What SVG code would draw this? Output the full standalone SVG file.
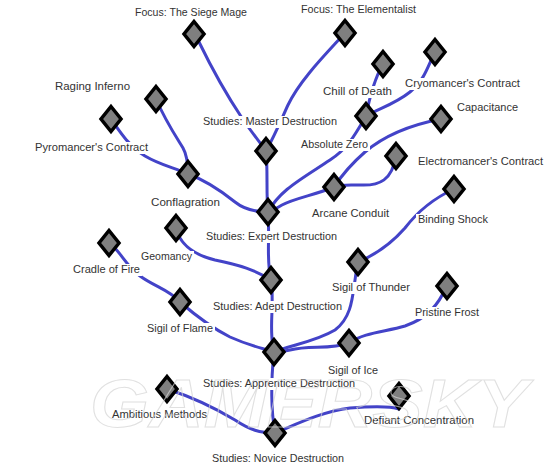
<svg xmlns="http://www.w3.org/2000/svg" width="550" height="469" viewBox="0 0 550 469">
<defs>
<style>
.c{fill:none;stroke:#4343c8;stroke-width:3;stroke-linecap:round}
.d{fill:#7f7f7f;stroke:#000;stroke-width:3.5;stroke-linejoin:miter}
.bg{fill:#fff}
.t{font-family:"Liberation Sans","DejaVu Sans",sans-serif;font-size:11.5px;fill:#333}
.wm{font-family:"Liberation Sans",sans-serif;font-weight:bold;font-style:italic;font-size:69px;fill:none;stroke:#d4d4d4;stroke-width:1;opacity:.7}
</style>
<path id="dia" d="M0,-12.5 L10,0 L0,12.5 L-10,0 Z"/>
</defs>
<rect width="550" height="469" fill="#fff"/>
<g id="connectors">
<path class="c" d="M199,42 C215,75 230,100 242,118 C250,130 258,140 266,151"/>
<path class="c" d="M345,33 C325,55 300,80 288,105 C282,118 275,135 266,151"/>
<path class="c" d="M266,151 C268,170 266,195 268,212"/>
<path class="c" d="M156,99 C165,120 175,135 183,148 C187,155 188,165 188,174"/>
<path class="c" d="M111,119 C120,132 128,145 145,156 C160,165 175,168 188,174"/>
<path class="c" d="M188,174 C205,180 220,190 235,202 C245,210 255,212 268,212"/>
<path class="c" d="M383,64 C375,78 370,95 366,116"/>
<path class="c" d="M435,52 C428,65 425,80 410,92 C395,104 380,108 366,116"/>
<path class="c" d="M366,116 C355,135 348,148 330,160 C300,180 280,190 268,212"/>
<path class="c" d="M441,119 C410,125 385,135 365,152 C350,165 342,175 334,187"/>
<path class="c" d="M396,156 C392,180 380,186 360,185 C350,185 342,184 334,187"/>
<path class="c" d="M334,187 C315,195 295,198 282,205 C275,209 270,212 268,212"/>
<path class="c" d="M176,228 C180,245 195,255 215,260 C240,265 255,270 271,280"/>
<path class="c" d="M268,212 C270,240 266,260 271,280"/>
<path class="c" d="M109,243 C120,250 125,265 140,276 C155,287 170,290 180,302"/>
<path class="c" d="M180,302 C195,315 210,327 230,337 C250,346 262,348 274,352"/>
<path class="c" d="M271,280 C275,305 268,330 274,352"/>
<path class="c" d="M454,189 C430,200 415,215 405,228 C390,245 375,255 358,262"/>
<path class="c" d="M358,262 C352,290 355,315 335,330 C315,342 290,345 274,352"/>
<path class="c" d="M447,286 C438,305 428,318 405,326 C385,332 365,332 349,343"/>
<path class="c" d="M349,343 C330,350 310,345 290,350 C282,352 278,352 274,352"/>
<path class="c" d="M274,352 C271,380 271,410 275,433"/>
<path class="c" d="M167,389 C195,398 215,408 235,420 C250,430 260,433 275,433"/>
<path class="c" d="M399,409 C390,406 375,406 350,408 C320,412 295,425 275,433"/>
</g>
<g id="n-siege"><rect class="bg" x="133" y="7" width="116" height="12"/><text class="t" x="135" y="16" textLength="112" lengthAdjust="spacingAndGlyphs">Focus: The Siege Mage</text><use href="#dia" class="d" x="194" y="34"/></g>
<g id="n-elementalist"><rect class="bg" x="299" y="4" width="119" height="12"/><text class="t" x="301" y="13" textLength="115" lengthAdjust="spacingAndGlyphs">Focus: The Elementalist</text><use href="#dia" class="d" x="345" y="33"/></g>
<g id="n-raging"><rect class="bg" x="53" y="81" width="79" height="12"/><text class="t" x="55" y="90" textLength="75" lengthAdjust="spacingAndGlyphs">Raging Inferno</text><use href="#dia" class="d" x="156" y="99"/></g>
<g id="n-pyro"><rect class="bg" x="33" y="142" width="117" height="12"/><text class="t" x="35" y="151" textLength="113" lengthAdjust="spacingAndGlyphs">Pyromancer's Contract</text><use href="#dia" class="d" x="111" y="119"/></g>
<g id="n-master"><rect class="bg" x="201" y="116" width="138" height="12"/><text class="t" x="203" y="125" textLength="134" lengthAdjust="spacingAndGlyphs">Studies: Master Destruction</text><use href="#dia" class="d" x="266" y="151"/></g>
<g id="n-chill"><rect class="bg" x="321" y="86" width="73" height="12"/><text class="t" x="323" y="95" textLength="69" lengthAdjust="spacingAndGlyphs">Chill of Death</text><use href="#dia" class="d" x="383" y="64"/></g>
<g id="n-cryo"><rect class="bg" x="403" y="78" width="119" height="12"/><text class="t" x="405" y="87" textLength="115" lengthAdjust="spacingAndGlyphs">Cryomancer's Contract</text><use href="#dia" class="d" x="435" y="52"/></g>
<g id="n-abszero"><rect class="bg" x="299" y="139" width="71" height="12"/><text class="t" x="301" y="148" textLength="67" lengthAdjust="spacingAndGlyphs">Absolute Zero</text><use href="#dia" class="d" x="366" y="116"/></g>
<g id="n-capacitance"><rect class="bg" x="455" y="102" width="65" height="12"/><text class="t" x="457" y="111" textLength="61" lengthAdjust="spacingAndGlyphs">Capacitance</text><use href="#dia" class="d" x="441" y="119"/></g>
<g id="n-electro"><rect class="bg" x="416" y="156" width="129" height="12"/><text class="t" x="418" y="165" textLength="125" lengthAdjust="spacingAndGlyphs">Electromancer's Contract</text><use href="#dia" class="d" x="396" y="156"/></g>
<g id="n-conflag"><rect class="bg" x="149" y="197" width="73" height="12"/><text class="t" x="151" y="206" textLength="69" lengthAdjust="spacingAndGlyphs">Conflagration</text><use href="#dia" class="d" x="188" y="174"/></g>
<g id="n-expert"><rect class="bg" x="204" y="231" width="135" height="12"/><text class="t" x="206" y="240" textLength="131" lengthAdjust="spacingAndGlyphs">Studies: Expert Destruction</text><use href="#dia" class="d" x="268" y="212"/></g>
<g id="n-arcane"><rect class="bg" x="310" y="208" width="81" height="12"/><text class="t" x="312" y="217" textLength="77" lengthAdjust="spacingAndGlyphs">Arcane Conduit</text><use href="#dia" class="d" x="334" y="187"/></g>
<g id="n-binding"><rect class="bg" x="416" y="214" width="74" height="12"/><text class="t" x="418" y="223" textLength="70" lengthAdjust="spacingAndGlyphs">Binding Shock</text><use href="#dia" class="d" x="454" y="189"/></g>
<g id="n-geomancy"><rect class="bg" x="139" y="251" width="55" height="12"/><text class="t" x="141" y="260" textLength="51" lengthAdjust="spacingAndGlyphs">Geomancy</text><use href="#dia" class="d" x="176" y="228"/></g>
<g id="n-cradle"><rect class="bg" x="71" y="264" width="71" height="12"/><text class="t" x="73" y="273" textLength="67" lengthAdjust="spacingAndGlyphs">Cradle of Fire</text><use href="#dia" class="d" x="109" y="243"/></g>
<g id="n-adept"><rect class="bg" x="211" y="301" width="133" height="12"/><text class="t" x="213" y="310" textLength="129" lengthAdjust="spacingAndGlyphs">Studies: Adept Destruction</text><use href="#dia" class="d" x="271" y="280"/></g>
<g id="n-thunder"><rect class="bg" x="330" y="282" width="82" height="12"/><text class="t" x="332" y="291" textLength="78" lengthAdjust="spacingAndGlyphs">Sigil of Thunder</text><use href="#dia" class="d" x="358" y="262"/></g>
<g id="n-flame"><rect class="bg" x="145" y="323" width="70" height="12"/><text class="t" x="147" y="332" textLength="66" lengthAdjust="spacingAndGlyphs">Sigil of Flame</text><use href="#dia" class="d" x="180" y="302"/></g>
<g id="n-pristine"><rect class="bg" x="413" y="307" width="68" height="12"/><text class="t" x="415" y="316" textLength="64" lengthAdjust="spacingAndGlyphs">Pristine Frost</text><use href="#dia" class="d" x="447" y="286"/></g>
<g id="n-apprentice"><rect class="bg" x="201" y="378" width="156" height="12"/><text class="t" x="203" y="387" textLength="152" lengthAdjust="spacingAndGlyphs">Studies: Apprentice Destruction</text><use href="#dia" class="d" x="274" y="352"/></g>
<g id="n-ice"><rect class="bg" x="326" y="365" width="54" height="12"/><text class="t" x="328" y="374" textLength="50" lengthAdjust="spacingAndGlyphs">Sigil of Ice</text><use href="#dia" class="d" x="349" y="343"/></g>
<g id="n-ambitious"><rect class="bg" x="110" y="409" width="99" height="12"/><text class="t" x="112" y="418" textLength="95" lengthAdjust="spacingAndGlyphs">Ambitious Methods</text><use href="#dia" class="d" x="167" y="389"/></g>
<g id="n-defiant"><rect class="bg" x="362" y="415" width="114" height="12"/><text class="t" x="364" y="424" textLength="110" lengthAdjust="spacingAndGlyphs">Defiant Concentration</text><use href="#dia" class="d" x="399" y="396"/></g>
<g id="n-novice"><rect class="bg" x="210" y="453" width="136" height="12"/><text class="t" x="212" y="462" textLength="132" lengthAdjust="spacingAndGlyphs">Studies: Novice Destruction</text><use href="#dia" class="d" x="275" y="433"/></g>
<text class="wm" x="90" y="427" textLength="438" lengthAdjust="spacingAndGlyphs">GAMERSKY</text>
</svg>
